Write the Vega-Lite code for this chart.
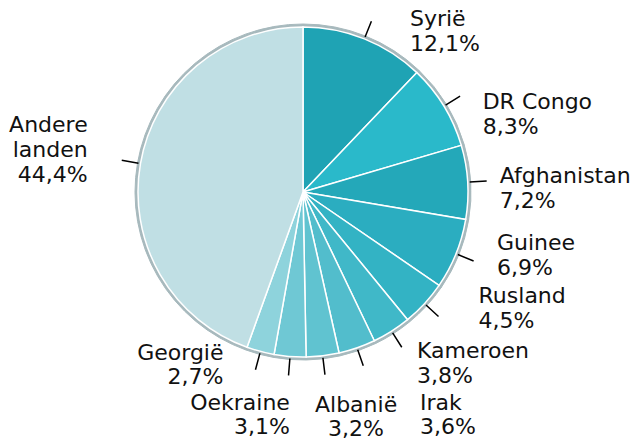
{
  "$schema": "https://vega.github.io/schema/vega-lite/v6.json",
  "width": 606,
  "height": 384,
  "autosize": "none",
  "padding": {"left": 0, "top": 0, "right": 29, "bottom": 57},
  "background": "white",
  "config": {"view": {"stroke": null}},
  "data": {"values": [
    {"rank": 1, "name": "Syrië", "value": 12.1, "label": "Syrië\n12,1%"},
    {"rank": 2, "name": "DR Congo", "value": 8.3, "label": "DR Congo\n8,3%"},
    {"rank": 3, "name": "Afghanistan", "value": 7.2, "label": "Afghanistan\n7,2%"},
    {"rank": 4, "name": "Guinee", "value": 6.9, "label": "Guinee\n6,9%"},
    {"rank": 5, "name": "Rusland", "value": 4.5, "label": "Rusland\n4,5%"},
    {"rank": 6, "name": "Kameroen", "value": 3.8, "label": "Kameroen\n3,8%"},
    {"rank": 7, "name": "Irak", "value": 3.6, "label": "Irak\n3,6%"},
    {"rank": 8, "name": "Albanië", "value": 3.2, "label": "Albanië\n3,2%"},
    {"rank": 9, "name": "Oekraine", "value": 3.1, "label": "Oekraine\n3,1%"},
    {"rank": 10, "name": "Georgië", "value": 2.7, "label": "Georgië\n2,7%"},
    {"rank": 11, "name": "Andere landen", "value": 44.4, "label": "Andere\nlanden\n44,4%"}
  ]},
  "encoding": {
    "theta": {"field": "value", "type": "quantitative", "stack": true},
    "order": {"field": "rank", "type": "quantitative"}
  },
  "layer": [
    {
      "mark": {"type": "arc", "radius": 168, "fill": "#a7b9bd", "stroke": "#a7b9bd", "strokeWidth": 1}
    },
    {
      "mark": {"type": "arc", "radius": 165, "stroke": "#ffffff", "strokeWidth": 1.5},
      "encoding": {
        "color": {
          "field": "name", "type": "nominal", "legend": null,
          "scale": {
            "domain": ["Syrië", "DR Congo", "Afghanistan", "Guinee", "Rusland", "Kameroen", "Irak", "Albanië", "Oekraine", "Georgië", "Andere landen"],
            "range": ["#1fa3b4", "#2ab9ca", "#24a8b9", "#2badc0", "#33b3c4", "#40b8c8", "#52bdcc", "#60c3d0", "#6fc8d4", "#8ed3dc", "#c0dfe4"]
          }
        }
      }
    },
    {
      "mark": {"type": "arc", "radius": 184, "radius2": 167, "padAngle": 3, "fillOpacity": 0, "fill": "#000000", "stroke": "#000000", "strokeWidth": 1.5}
    },
    {
      "mark": {"type": "text", "radius": 180, "align": "left", "baseline": "middle", "dx": 40, "dy": -6, "font": "DejaVu Sans", "fontSize": 22, "lineHeight": 25, "lineBreak": "\n", "color": "#111111"},
      "encoding": {"text": {"field": "label", "type": "nominal", "condition": {"test": "datum.name !== 'Syrië'", "value": ""}}}
    },
    {
      "mark": {"type": "text", "radius": 180, "align": "left", "baseline": "middle", "dx": 26, "dy": 4, "font": "DejaVu Sans", "fontSize": 22, "lineHeight": 25, "lineBreak": "\n", "color": "#111111"},
      "encoding": {"text": {"field": "label", "type": "nominal", "condition": {"test": "datum.name !== 'DR Congo'", "value": ""}}}
    },
    {
      "mark": {"type": "text", "radius": 180, "align": "left", "baseline": "middle", "dx": 17, "dy": -5, "font": "DejaVu Sans", "fontSize": 22, "lineHeight": 25, "lineBreak": "\n", "color": "#111111"},
      "encoding": {"text": {"field": "label", "type": "nominal", "condition": {"test": "datum.name !== 'Afghanistan'", "value": ""}}}
    },
    {
      "mark": {"type": "text", "radius": 180, "align": "left", "baseline": "middle", "dx": 27, "dy": -16, "font": "DejaVu Sans", "fontSize": 22, "lineHeight": 25, "lineBreak": "\n", "color": "#111111"},
      "encoding": {"text": {"field": "label", "type": "nominal", "condition": {"test": "datum.name !== 'Guinee'", "value": ""}}}
    },
    {
      "mark": {"type": "text", "radius": 180, "align": "left", "baseline": "middle", "dx": 43, "dy": -18, "font": "DejaVu Sans", "fontSize": 22, "lineHeight": 25, "lineBreak": "\n", "color": "#111111"},
      "encoding": {"text": {"field": "label", "type": "nominal", "condition": {"test": "datum.name !== 'Rusland'", "value": ""}}}
    },
    {
      "mark": {"type": "text", "radius": 190, "align": "left", "baseline": "top", "dx": 12, "dy": -11, "font": "DejaVu Sans", "fontSize": 22, "lineHeight": 25, "lineBreak": "\n", "color": "#111111"},
      "encoding": {"text": {"field": "label", "type": "nominal", "condition": {"test": "datum.name !== 'Kameroen'", "value": ""}}}
    },
    {
      "mark": {"type": "text", "radius": 220, "align": "left", "baseline": "top", "dx": 45, "dy": -7, "font": "DejaVu Sans", "fontSize": 22, "lineHeight": 24, "lineBreak": "\n", "color": "#111111"},
      "encoding": {"text": {"field": "label", "type": "nominal", "condition": {"test": "datum.name !== 'Irak'", "value": ""}}}
    },
    {
      "mark": {"type": "text", "radius": 210, "align": "center", "baseline": "top", "dx": 28, "dy": -5, "font": "DejaVu Sans", "fontSize": 22, "lineHeight": 24, "lineBreak": "\n", "color": "#111111"},
      "encoding": {"text": {"field": "label", "type": "nominal", "condition": {"test": "datum.name !== 'Albanië'", "value": ""}}}
    },
    {
      "mark": {"type": "text", "radius": 205, "align": "right", "baseline": "top", "dx": 3, "dy": -3, "font": "DejaVu Sans", "fontSize": 22, "lineHeight": 24, "lineBreak": "\n", "color": "#111111"},
      "encoding": {"text": {"field": "label", "type": "nominal", "condition": {"test": "datum.name !== 'Oekraine'", "value": ""}}}
    },
    {
      "mark": {"type": "text", "radius": 180, "align": "right", "baseline": "middle", "dx": -33, "dy": -13, "font": "DejaVu Sans", "fontSize": 22, "lineHeight": 24, "lineBreak": "\n", "color": "#111111"},
      "encoding": {"text": {"field": "label", "type": "nominal", "condition": {"test": "datum.name !== 'Georgië'", "value": ""}}}
    },
    {
      "mark": {"type": "text", "radius": 180, "align": "right", "baseline": "middle", "dx": -38, "dy": -36, "font": "DejaVu Sans", "fontSize": 22, "lineHeight": 25, "lineBreak": "\n", "color": "#111111"},
      "encoding": {"text": {"field": "label", "type": "nominal", "condition": {"test": "datum.name !== 'Andere landen'", "value": ""}}}
    }
  ]
}
